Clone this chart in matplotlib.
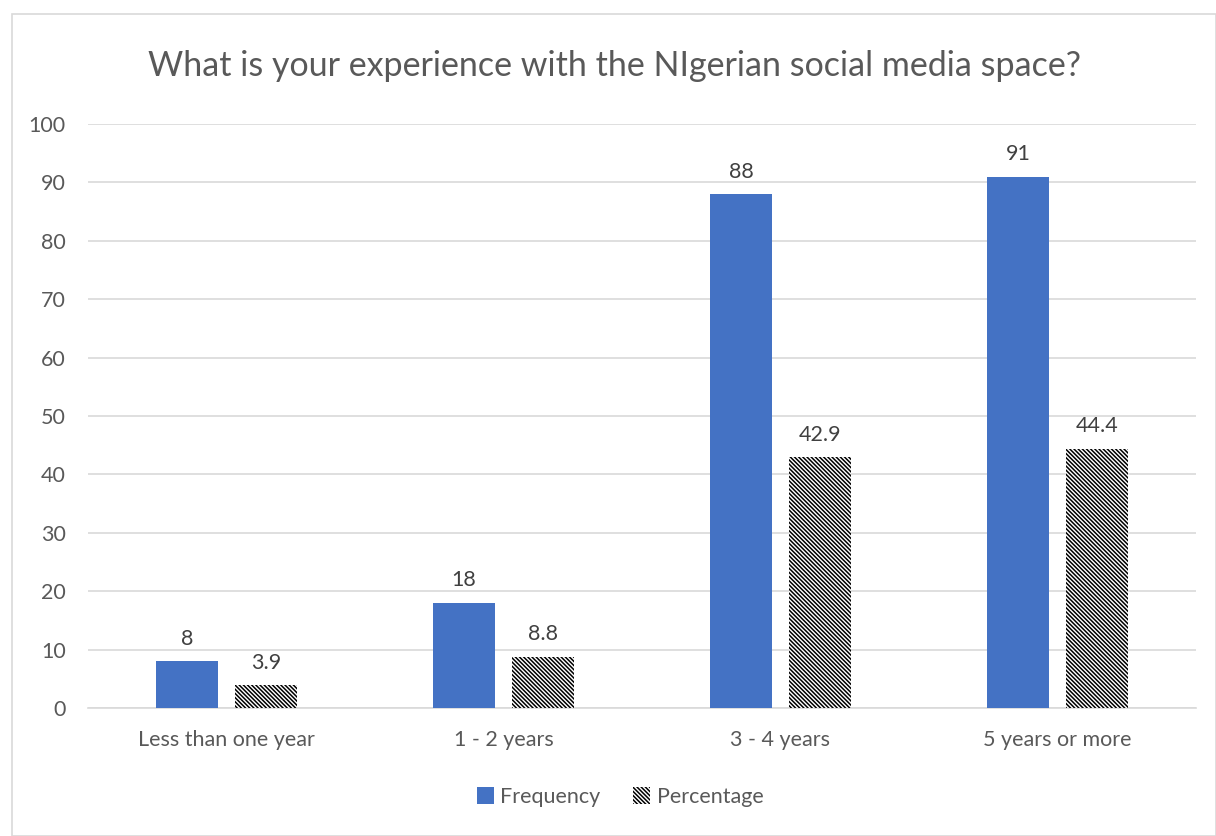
import numpy as np
import matplotlib.pyplot as plt
from matplotlib.patches import Rectangle

# Datos de la encuesta
categorias = ["Less than one year", "1 - 2 years", "3 - 4 years", "5 years or more"]
frecuencia = [8, 18, 88, 91]
porcentaje = [3.9, 8.8, 42.9, 44.4]

TITULO = "What is your experience with the NIgerian social media space?"
GRIS_TEXTO = "#595959"
AZUL = "#4472C4"

plt.rcParams['font.family'] = ['Lato', 'DejaVu Sans']
plt.rcParams['hatch.linewidth'] = 1.1
plt.rcParams['hatch.color'] = 'black'

fig = plt.figure(figsize=(12.16, 8.36), dpi=100)
ax = fig.add_axes([88 / 1216, 1 - 708 / 836, 1108 / 1216, 584 / 836])

# marco exterior del grafico
fig.patches.append(Rectangle((12 / 1216, 0), 1 - 12 / 1216, 1 - 14 / 836,
                             transform=fig.transFigure, fill=False,
                             edgecolor="#d9d9d9", linewidth=1.2))

x = np.arange(len(categorias))
ancho = 0.224
desp = 0.1425

b1 = ax.bar(x - desp, frecuencia, ancho, color=AZUL, label="Frequency", zorder=3)
b2 = ax.bar(x + desp, porcentaje, ancho, facecolor="white", edgecolor="black",
            hatch="\\" * 8, linewidth=0, label="Percentage", zorder=3)

for barras, valores in ((b1, frecuencia), (b2, porcentaje)):
    for b, v in zip(barras, valores):
        ax.annotate(f"{v:g}", (b.get_x() + b.get_width() / 2, v),
                    xytext=(0, 9), textcoords="offset points",
                    ha="center", va="bottom", fontsize=15.5, color="#404040")

ax.set_xlim(-0.5, len(categorias) - 0.5)
ax.set_ylim(0, 100)
ax.set_yticks(range(0, 101, 10))
ax.set_xticks(x)
ax.set_xticklabels(categorias)
ax.tick_params(axis="both", length=0, labelsize=15.5, colors=GRIS_TEXTO, pad=16)
ax.grid(axis="y", color="#d9d9d9", linewidth=1.2, zorder=0)
for lado in ("top", "right", "left"):
    ax.spines[lado].set_visible(False)
ax.spines["bottom"].set_color("#d9d9d9")
ax.spines["bottom"].set_linewidth(1.2)

fig.text(0.5 + 6 / 1216, 1 - 66 / 836, TITULO, ha="center", va="center",
         fontsize=24.5, color=GRIS_TEXTO)

fig.legend(handles=[b1, b2], loc="center", bbox_to_anchor=(0.5 + 12 / 1216, 1 - 797 / 836),
           ncol=2, frameon=False, fontsize=15.5, labelcolor=GRIS_TEXTO,
           handlelength=0.8, handleheight=0.8, columnspacing=1.5, handletextpad=0.3)

fig.savefig("out.png", dpi=100)
